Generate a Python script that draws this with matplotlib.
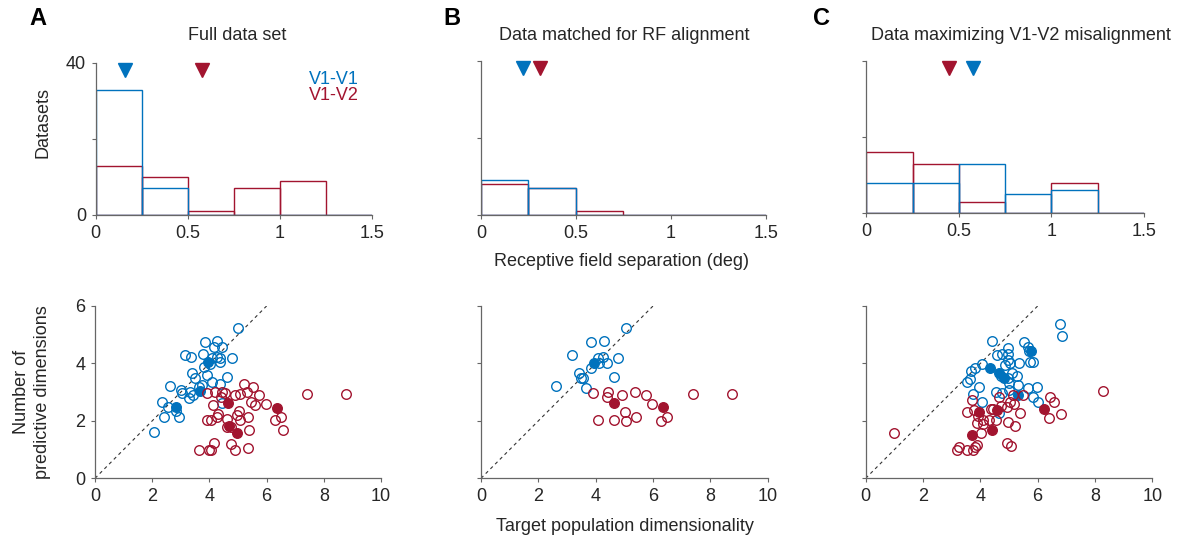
import matplotlib
matplotlib.use("Agg")
import matplotlib.pyplot as plt
import numpy as np

plt.rcParams['font.family'] = ['Liberation Sans', 'DejaVu Sans']

BLUE = '#0072BD'
RED = '#A2142F'
SPINE = '#666666'
TEXT = '#262626'

# ---- histogram data (counts per 0.25 deg bin) ----
bin_edges = [0, 0.25, 0.5, 0.75, 1.0, 1.25, 1.5]
hist_full_v1v1 = [33, 7, 0, 0, 0, 0]
hist_full_v1v2 = [13, 10, 1, 7, 9, 0]
hist_matched_v1v1 = [9, 7, 0, 0, 0, 0]
hist_matched_v1v2 = [8, 7, 1, 0, 0, 0]
hist_misaligned_v1v1 = [8, 8, 13, 5, 6, 0]
hist_misaligned_v1v2 = [16, 13, 3, 0, 8, 0]

# medians of receptive field separation (deg)
median_full = {'v1v1': 0.16, 'v1v2': 0.58}
median_matched = {'v1v1': 0.22, 'v1v2': 0.31}
median_misaligned = {'v1v1': 0.575, 'v1v2': 0.445}

# ---- scatter data: (target dimensionality, predictive dimensions) ----
# Full data set
full_v1v1_x = [2.07, 5.01, 3.83, 4.27, 4.17, 4.43, 3.15, 3.35, 3.79, 4.78, 4.08, 4.37,
               4.25, 4.37, 3.40, 3.50, 3.82, 3.90, 4.08, 4.37, 4.63, 3.73, 2.62, 3.00,
               3.03, 3.32, 3.41, 3.30, 3.64, 2.35, 2.54, 2.83, 2.42, 2.94, 4.43, 4.02]
full_v1v1_y = [1.60, 5.24, 4.74, 4.78, 4.58, 4.58, 4.29, 4.21, 4.33, 4.18, 4.20, 4.18,
               4.23, 4.04, 3.68, 3.48, 3.86, 3.60, 3.36, 3.28, 3.54, 3.25, 3.21, 3.07,
               2.96, 3.02, 2.89, 2.78, 3.19, 2.67, 2.49, 2.34, 2.12, 2.15, 2.61, 3.98]
full_v1v1_fx = [3.96, 3.67, 2.82]
full_v1v1_fy = [4.06, 3.04, 2.47]
full_v1v2_x = [7.40, 8.76, 5.22, 5.54, 5.33, 5.75, 5.07, 4.91, 3.90, 4.20, 4.43, 4.55,
               4.40, 4.14, 5.44, 5.60, 5.97, 5.05, 4.95, 5.36, 4.31, 4.25, 6.49, 6.29,
               3.90, 4.05, 4.63, 5.07, 4.60, 4.74, 5.38, 6.56, 4.16, 4.76, 3.65, 3.99,
               4.05, 4.91, 5.34]
full_v1v2_y = [2.94, 2.94, 3.28, 3.17, 2.99, 2.89, 2.94, 2.89, 2.96, 3.00, 3.00, 2.96,
               2.82, 2.54, 2.65, 2.55, 2.58, 2.36, 2.20, 2.15, 2.23, 2.15, 2.15, 2.02,
               2.02, 2.02, 2.05, 2.02, 1.78, 1.80, 1.68, 1.68, 1.22, 1.18, 1.00, 1.00,
               1.00, 1.00, 1.07]
full_v1v2_fx = [4.65, 6.35, 4.67, 4.95]
full_v1v2_fy = [2.61, 2.46, 1.83, 1.57]

# Data matched for RF alignment
matched_v1v1_x = [5.05, 3.84, 4.28, 3.16, 4.07, 4.24, 4.78, 4.10, 4.40, 3.84, 3.42,
                  3.48, 3.57, 4.64, 2.62, 3.66]
matched_v1v1_y = [5.24, 4.76, 4.79, 4.29, 4.20, 4.21, 4.18, 4.00, 4.03, 3.85, 3.68,
                  3.48, 3.50, 3.54, 3.21, 3.16]
matched_v1v1_fx = [3.94]
matched_v1v1_fy = [4.00]
matched_v1v2_x = [3.92, 4.42, 4.41, 4.92, 5.36, 5.74, 7.40, 8.77, 5.97, 5.03, 5.40,
                  6.50, 4.07, 4.63, 5.07, 6.28]
matched_v1v2_y = [2.98, 3.00, 2.82, 2.89, 3.00, 2.89, 2.94, 2.94, 2.58, 2.32, 2.15,
                  2.15, 2.02, 2.04, 2.01, 2.01]
matched_v1v2_fx = [4.64, 6.35]
matched_v1v2_fy = [2.61, 2.47]

# Data maximizing V1-V2 misalignment
misaligned_v1v1_x = [6.79, 6.86, 4.41, 5.52, 5.67, 5.69, 4.95, 4.58, 4.77, 4.97, 4.97,
                     5.03, 4.85, 5.35, 5.72, 5.83, 4.06, 3.80, 3.69, 4.71, 5.09, 5.28,
                     4.97, 5.01, 3.52, 3.63, 3.95, 5.31, 5.67, 5.97, 3.74, 4.56, 4.74,
                     4.99, 5.83, 6.00, 4.06, 4.66]
misaligned_v1v1_y = [5.36, 4.97, 4.79, 4.75, 4.58, 4.43, 4.55, 4.29, 4.32, 4.33, 4.12,
                     4.00, 3.93, 4.00, 4.05, 4.05, 3.97, 3.83, 3.73, 3.56, 3.66, 3.57,
                     3.48, 3.33, 3.37, 3.45, 3.18, 3.25, 3.16, 3.18, 2.94, 3.01, 2.96,
                     3.08, 2.83, 2.65, 2.65, 2.29]
misaligned_v1v1_fx = [5.78, 4.35, 4.64, 4.83, 5.31]
misaligned_v1v1_fy = [4.43, 3.85, 3.68, 3.50, 2.89]
misaligned_v1v2_x = [0.98, 8.27, 3.70, 4.66, 5.15, 5.48, 6.43, 6.57, 6.83, 6.38, 5.05,
                     5.16, 4.92, 4.73, 4.36, 4.43, 3.52, 3.79, 3.91, 5.37, 4.10, 4.31,
                     4.53, 3.90, 4.08, 4.98, 5.22, 4.02, 4.93, 5.07, 3.87, 3.80, 3.27,
                     3.20, 3.55, 3.74]
misaligned_v1v2_y = [1.57, 3.04, 2.72, 2.82, 2.89, 2.90, 2.82, 2.65, 2.25, 2.11, 2.64,
                     2.59, 2.47, 2.52, 2.40, 2.40, 2.32, 2.38, 2.18, 2.29, 2.03, 2.03,
                     2.03, 1.91, 1.89, 1.97, 1.82, 1.59, 1.23, 1.11, 1.16, 1.08, 1.08,
                     1.00, 0.99, 1.00]
misaligned_v1v2_fx = [6.21, 4.59, 3.97, 4.42, 3.72]
misaligned_v1v2_fy = [2.43, 2.37, 2.32, 1.67, 1.50]

W, H = 1199, 541
fig = plt.figure(figsize=(W / 100, H / 100), dpi=100)


def box(x0, x1, ytop, ybot):
    return [x0 / W, 1 - ybot / H, (x1 - x0) / W, (ybot - ytop) / H]


def style(ax):
    for s in ('top', 'right'):
        ax.spines[s].set_visible(False)
    for s in ('left', 'bottom'):
        ax.spines[s].set_color(SPINE)
        ax.spines[s].set_linewidth(0.9)
    ax.tick_params(direction='out', length=3, width=0.8, color=SPINE,
                   labelsize=13, labelcolor=TEXT, pad=4)


def draw_hist(ax, v1v1, v1v2, med, show_ylabels):
    left = np.array(bin_edges[:-1])
    width = np.diff(bin_edges)
    ax.bar(left, v1v2, width=width, align='edge', fill=False,
           edgecolor=RED, linewidth=1.0)
    ax.bar(left, v1v1, width=width, align='edge', fill=False,
           edgecolor=BLUE, linewidth=1.0)
    ax.plot([med['v1v2']], [38.2], marker='v', color=RED, markersize=10.5,
            linestyle='none', clip_on=False)
    ax.plot([med['v1v1']], [38.2], marker='v', color=BLUE, markersize=10.5,
            linestyle='none', clip_on=False)
    ax.set_xlim(0, 1.5)
    ax.set_ylim(0, 40)
    ax.set_xticks([0, 0.5, 1, 1.5])
    ax.set_xticklabels(['0', '0.5', '1', '1.5'])
    ax.set_yticks([0, 20, 40])
    ax.set_yticklabels(['0', '', '40'] if show_ylabels else ['', '', ''])
    style(ax)


def draw_scatter(ax, bx, by, bfx, bfy, rx, ry, rfx, rfy, show_ylabels):
    ax.plot([0, 6], [0, 6], linestyle=(0, (3, 3)), color='#333333', linewidth=0.8)
    kw = dict(linestyle='none', marker='o', markersize=6.9, markeredgewidth=1.0)
    ax.plot(bx, by, markerfacecolor='none', markeredgecolor=BLUE, **kw)
    ax.plot(bfx, bfy, markerfacecolor=BLUE, markeredgecolor=BLUE, **kw)
    ax.plot(rx, ry, markerfacecolor='none', markeredgecolor=RED, **kw)
    ax.plot(rfx, rfy, markerfacecolor=RED, markeredgecolor=RED, **kw)
    ax.set_xlim(0, 10)
    ax.set_ylim(0, 6)
    ax.set_xticks([0, 2, 4, 6, 8, 10])
    ax.set_yticks([0, 2, 4, 6])
    if not show_ylabels:
        ax.set_yticklabels([])
    style(ax)


# top row: histograms
axA = fig.add_axes(box(95.7, 371.7, 63, 215))
axB = fig.add_axes(box(481, 765.7, 61, 215))
axC = fig.add_axes(box(866.3, 1144, 61, 213))
draw_hist(axA, hist_full_v1v1, hist_full_v1v2, median_full, True)
draw_hist(axB, hist_matched_v1v1, hist_matched_v1v2, median_matched, False)
draw_hist(axC, hist_misaligned_v1v1, hist_misaligned_v1v2, median_misaligned, False)

# bottom row: scatter plots
sA = fig.add_axes(box(95, 381, 306, 478.3))
sB = fig.add_axes(box(481, 767.7, 306, 478.3))
sC = fig.add_axes(box(865.7, 1152.3, 306, 478.3))
draw_scatter(sA, full_v1v1_x, full_v1v1_y, full_v1v1_fx, full_v1v1_fy,
             full_v1v2_x, full_v1v2_y, full_v1v2_fx, full_v1v2_fy, True)
draw_scatter(sB, matched_v1v1_x, matched_v1v1_y, matched_v1v1_fx, matched_v1v1_fy,
             matched_v1v2_x, matched_v1v2_y, matched_v1v2_fx, matched_v1v2_fy, False)
draw_scatter(sC, misaligned_v1v1_x, misaligned_v1v1_y, misaligned_v1v1_fx,
             misaligned_v1v1_fy, misaligned_v1v2_x, misaligned_v1v2_y,
             misaligned_v1v2_fx, misaligned_v1v2_fy, False)


def ftext(x, y, s, **kw):
    return fig.text(x / W, 1 - y / H, s, **kw)


# panel letters
for lx, letter in ((29, 'A'), (443, 'B'), (813, 'C')):
    ftext(lx, 25, letter, fontsize=17, fontweight='bold', color='black',
          ha='left', va='baseline')

# panel titles
ftext(236.7, 39.5, 'Full data set', fontsize=13, color=TEXT, ha='center', va='baseline')
ftext(624, 39.5, 'Data matched for RF alignment', fontsize=13, color=TEXT,
      ha='center', va='baseline')
ftext(1021, 39.5, 'Data maximizing V1-V2 misalignment', fontsize=13, color=TEXT,
      ha='center', va='baseline')

# legend
ftext(359, 84, 'V1-V1', fontsize=13, color=BLUE, ha='right', va='baseline')
ftext(359, 100, 'V1-V2', fontsize=13, color=RED, ha='right', va='baseline')

# axis labels
ftext(43, 123, 'Datasets', fontsize=13, color=TEXT, rotation=90,
      ha='center', va='center')
ftext(622, 266.5, 'Receptive field separation (deg)', fontsize=13, color=TEXT,
      ha='center', va='baseline')
ftext(32, 392, 'Number of\npredictive dimensions', fontsize=13, color=TEXT,
      rotation=90, ha='center', va='center', multialignment='center', linespacing=1.35)
ftext(625, 531, 'Target population dimensionality', fontsize=13, color=TEXT,
      ha='center', va='baseline')

fig.savefig('out.png', dpi=100)
